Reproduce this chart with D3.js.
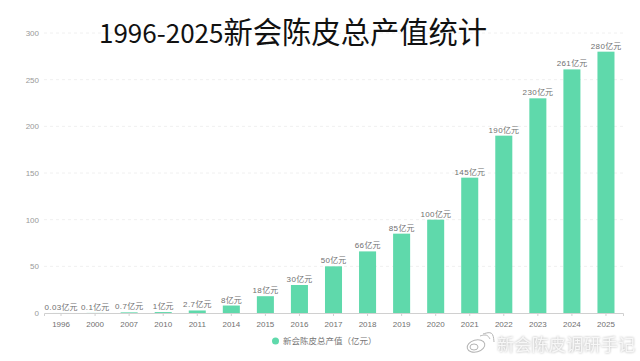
<!DOCTYPE html>
<html>
<head>
<meta charset="utf-8">
<script src="https://cdn.jsdelivr.net/npm/d3@7"></script>
<style>
html, body { margin: 0; padding: 0; background: #fff; }
text { font-family: "Noto Sans CJK SC", "Noto Sans", sans-serif; }
</style>
</head>
<body>
<div id="chart"></div>
<script>

// values
const years = ["1996","2000","2007","2010","2011","2014","2015","2016","2017","2018","2019","2020","2021","2022","2023","2024","2025"]
const values = [0.03,0.1,0.7,1,2.7,8,18,30,50,66,85,100,145,190,230,261,280]
const yTicks = [0,50,100,150,200,250,300]
const titleYears = "1996-2025"
const titleName = "新会陈皮总产值统计"
const unit = "亿元"
const seriesName = "新会陈皮总产值（亿元）"
const watermarkText = "新会陈皮调研手记"

const width = 640, height = 361
const margin = {top: 33, right: 17, bottom: 48, left: 44}

const svg = d3.select("#chart").append("svg")
    .attr("width", width)
    .attr("height", height)
    .style("display", "block")

const x = d3.scaleBand()
    .domain(years)
    .range([margin.left, width - margin.right])
    .paddingInner(0.5)
    .paddingOuter(0.25)

const y = d3.scaleLinear()
    .domain([0, 300])
    .range([height - margin.bottom, margin.top])

// gridlines
svg.append("g")
    .selectAll("line")
    .data(yTicks.filter(d => d > 0))
    .join("line")
    .attr("x1", margin.left)
    .attr("x2", width - margin.right)
    .attr("y1", d => y(d))
    .attr("y2", d => y(d))
    .attr("stroke", "#f0f0f0")
    .attr("stroke-dasharray", "3,3")

// y axis
const yAxis = svg.append("g")
    .attr("transform", `translate(${margin.left},0)`)
    .call(d3.axisLeft(y).tickValues(yTicks).tickSize(0).tickPadding(5))
yAxis.select(".domain").remove()
yAxis.selectAll("text")
    .attr("fill", "#999")
    .style("font-size", "8px")
    .style("font-family", "'Liberation Sans', sans-serif")

// bars
svg.append("g")
    .selectAll("rect")
    .data(values)
    .join("rect")
    .attr("x", (d, i) => x(years[i]))
    .attr("y", d => y(d))
    .attr("width", x.bandwidth())
    .attr("height", d => y(0) - y(d))
    .attr("fill", "#5fd9ab")

// x axis
const xAxis = svg.append("g")
    .attr("transform", `translate(0,${y(0)})`)
    .call(d3.axisBottom(x).tickSizeOuter(0).tickSize(3).tickPadding(5))
xAxis.select(".domain").attr("stroke", "#d0d0d0")
xAxis.selectAll(".tick line").attr("stroke", "#d0d0d0")
xAxis.selectAll("text")
    .attr("fill", "#707070")
    .style("font-size", "8px")
    .style("font-family", "'Liberation Sans', sans-serif")

// value labels
const labels = svg.append("g")
    .selectAll("text")
    .data(values)
    .join("text")
    .attr("x", (d, i) => x(years[i]) + x.bandwidth() / 2)
    .attr("y", d => y(d) - 3)
    .attr("text-anchor", "middle")
    .attr("fill", "#707070")
    .style("font-size", "8px")
labels.append("tspan")
    .style("font-family", "'Liberation Sans', sans-serif")
    .style("letter-spacing", "0.4px")
    .text(d => d)
labels.append("tspan")
    .text(unit)

// title
const title = svg.append("text")
    .attr("x", 99)
    .attr("y", 43)
    .attr("fill", "#111")
title.append("tspan")
    .style("font-size", "26px")
    .text(titleYears)
title.append("tspan")
    .style("font-size", "29.3px")
    .text(titleName)

// legend
svg.append("circle")
    .attr("cx", 275.5)
    .attr("cy", 341)
    .attr("r", 3.5)
    .attr("fill", "#5fd9ab")
svg.append("text")
    .attr("x", 283)
    .attr("y", 344)
    .attr("fill", "#777")
    .style("font-size", "8.5px")
    .text(seriesName)

// watermark
const mark = svg.append("g")
const icon = mark.append("g")
    .attr("fill", "none")
    .attr("stroke", "#b4b4b4")
    .attr("stroke-width", 1)
    .style("filter", "blur(0.4px)")
icon.append("ellipse")
    .attr("cx", 476)
    .attr("cy", 346)
    .attr("rx", 9)
    .attr("ry", 6)
    .attr("transform", "rotate(-15 476 346)")
icon.append("ellipse")
    .attr("cx", 474)
    .attr("cy", 347)
    .attr("rx", 4)
    .attr("ry", 3)
icon.append("path").attr("d", d3.line().curve(d3.curveBasis)([[480,336],[487,334],[490,339]]))
icon.append("path").attr("d", d3.line().curve(d3.curveBasis)([[483,334],[493,331],[494,342]]))

mark.append("text")
    .attr("x", 497)
    .attr("y", 351)
    .attr("fill", "#f7f7f7")
    .style("font-size", "17.3px")
    .style("filter", "drop-shadow(0 0 0.8px #b0b0b0)")
    .text(watermarkText)

</script>
</body>
</html>
